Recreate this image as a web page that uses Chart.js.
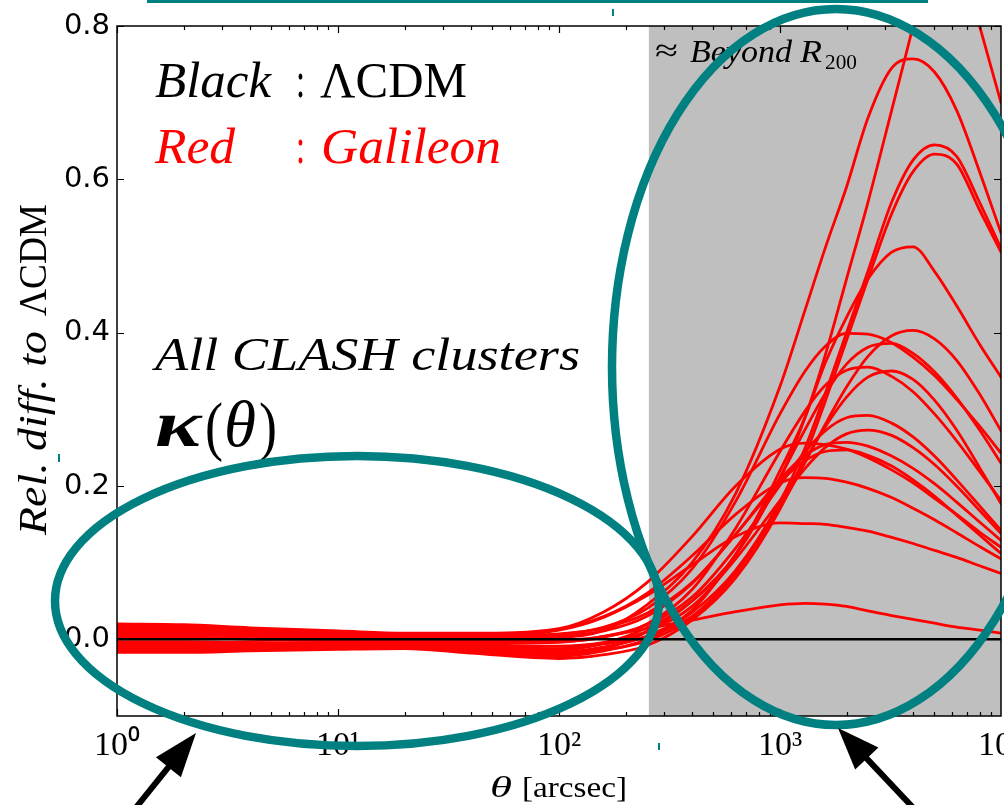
<!DOCTYPE html>
<html>
<head>
<meta charset="utf-8">
<script src="https://cdn.jsdelivr.net/npm/chart.js@4/dist/chart.umd.min.js"></script>
<style>
  html, body { margin: 0; padding: 0; background: #fff; }
  #wrap { width: 1004px; height: 805px; }
</style>
</head>
<body>
<div id="wrap"><canvas id="chart" width="1004" height="805"></canvas></div>
<script>
// theta grid in arcsec (shared by all curves)
var thetaGrid = [1, 2, 4, 10, 20, 40, 100, 160, 250, 400, 630, 1000, 1300, 1600, 2000, 2500, 3200, 4000, 5000, 6300, 8000, 10000]
var xTicks = [1, 10, 100, 1000, 10000]
var yTicks = [0, 0.2, 0.4, 0.6, 0.8]
var beyondR200 = 255

// black: LCDM reference
var lcdm = [0, 0, 0, 0, 0, 0, 0, 0, 0, 0, 0, 0, 0, 0, 0, 0, 0, 0, 0, 0, 0, 0]

// red: Galileon, one curve per CLASH cluster
var curve01 = [0.018, 0.017, 0.013, 0.009, 0.006, 0.004, 0.003, 0.012, 0.045, 0.10, 0.19, 0.33, 0.43, 0.51, 0.59, 0.68, 0.745, 0.757, 0.74, 0.69, 0.61, 0.53]
var curve02 = [-0.012, -0.012, -0.010, -0.009, -0.008, -0.013, -0.018, -0.012, 0.010, 0.05, 0.11, 0.21, 0.29, 0.37, 0.47, 0.57, 0.69, 0.80, 0.92, 0.91, 0.80, 0.70]
var curve03 = [-0.015, -0.015, -0.013, -0.011, -0.010, -0.016, -0.022, -0.015, 0.0, 0.035, 0.09, 0.18, 0.25, 0.32, 0.40, 0.48, 0.57, 0.625, 0.645, 0.63, 0.57, 0.51]
var curve04 = [-0.017, -0.017, -0.015, -0.013, -0.012, -0.018, -0.025, -0.020, -0.008, 0.025, 0.08, 0.17, 0.24, 0.31, 0.39, 0.47, 0.555, 0.61, 0.633, 0.62, 0.56, 0.505]
var curve05 = [-0.008, -0.008, -0.007, -0.007, -0.006, -0.010, -0.014, -0.005, 0.015, 0.05, 0.11, 0.22, 0.29, 0.36, 0.42, 0.47, 0.505, 0.512, 0.48, 0.435, 0.385, 0.342]
var curve06 = [-0.005, -0.005, -0.005, -0.004, -0.004, -0.008, -0.012, -0.006, 0.004, 0.03, 0.087, 0.172, 0.231, 0.28, 0.329, 0.369, 0.396, 0.403, 0.392, 0.364, 0.32, 0.272]
var curve07 = [0.012, 0.012, 0.010, 0.007, 0.004, 0.003, 0.006, 0.016, 0.04, 0.092, 0.18, 0.294, 0.35, 0.382, 0.399, 0.398, 0.387, 0.368, 0.344, 0.313, 0.278, 0.243]
var curve08 = [-0.010, -0.010, -0.009, -0.008, -0.007, -0.012, -0.017, -0.010, 0.004, 0.038, 0.111, 0.211, 0.274, 0.32, 0.359, 0.381, 0.386, 0.373, 0.349, 0.315, 0.273, 0.230]
var curve09 = [0.003, 0.003, 0.001, -0.001, -0.002, -0.004, -0.003, 0.003, 0.020, 0.065, 0.145, 0.245, 0.298, 0.331, 0.351, 0.355, 0.343, 0.323, 0.294, 0.259, 0.219, 0.181]
var curve10 = [-0.014, -0.014, -0.012, -0.010, -0.009, -0.015, -0.021, -0.014, -0.002, 0.028, 0.085, 0.177, 0.234, 0.277, 0.316, 0.342, 0.35, 0.339, 0.312, 0.273, 0.224, 0.177]
var curve11 = [0.006, 0.006, 0.004, 0.002, 0.0, -0.002, -0.001, 0.004, 0.019, 0.055, 0.119, 0.201, 0.245, 0.272, 0.289, 0.292, 0.282, 0.264, 0.239, 0.208, 0.174, 0.142]
var curve12 = [-0.003, -0.003, -0.004, -0.005, -0.005, -0.007, -0.009, -0.004, 0.010, 0.043, 0.105, 0.181, 0.223, 0.25, 0.268, 0.273, 0.266, 0.25, 0.228, 0.2, 0.168, 0.138]
var curve13 = [0.010, 0.010, 0.008, 0.005, 0.003, 0.002, 0.004, 0.011, 0.030, 0.073, 0.137, 0.209, 0.24, 0.254, 0.257, 0.252, 0.239, 0.223, 0.203, 0.179, 0.153, 0.129]
var curve14 = [0.020, 0.019, 0.015, 0.011, 0.008, 0.008, 0.014, 0.036, 0.074, 0.134, 0.2, 0.248, 0.256, 0.254, 0.248, 0.237, 0.221, 0.204, 0.184, 0.163, 0.14, 0.12]
var curve15 = [0.014, 0.013, 0.010, 0.007, 0.005, 0.004, 0.007, 0.015, 0.034, 0.074, 0.137, 0.205, 0.233, 0.245, 0.247, 0.24, 0.226, 0.208, 0.187, 0.162, 0.136, 0.112]
var curve16 = [0.016, 0.015, 0.012, 0.009, 0.007, 0.006, 0.013, 0.030, 0.060, 0.109, 0.163, 0.204, 0.211, 0.21, 0.205, 0.197, 0.185, 0.171, 0.156, 0.139, 0.121, 0.105]
var curve17 = [0.008, 0.008, 0.006, 0.004, 0.002, 0.002, 0.012, 0.029, 0.057, 0.097, 0.134, 0.152, 0.151, 0.15, 0.146, 0.141, 0.133, 0.125, 0.116, 0.107, 0.096, 0.086]
var curve18 = [0.002, 0.002, 0.0, -0.002, -0.003, -0.005, -0.004, 0.004, 0.014, 0.025, 0.036, 0.045, 0.047, 0.046, 0.043, 0.037, 0.031, 0.026, 0.021, 0.016, 0.012, 0.008]

var galileon = [curve01, curve02, curve03, curve04, curve05, curve06, curve07, curve08, curve09,
    curve10, curve11, curve12, curve13, curve14, curve15, curve16, curve17, curve18]

var teal = '#008080'
var serif = '"Liberation Serif", "Times New Roman", serif'
var sups = { 0: '\u2070', 1: '\u00b9', 2: '\u00b2', 3: '\u00b3', 4: '\u2074' }

function points(values) {
    return values.map(function(v, i) { return { x: thetaGrid[i], y: v } })
}

// text squeezed/stretched to a measured width
function fitText(ctx, str, x, y, width, font, color) {
    ctx.font = font
    ctx.fillStyle = color
    var w = ctx.measureText(str).width
    ctx.save()
    ctx.translate(x, y)
    ctx.scale(width / w, 1)
    ctx.fillText(str, 0, 0)
    ctx.restore()
}

function arrow(ctx, x0, y0, x1, y1, head, half) {
    var ang = Math.atan2(y1 - y0, x1 - x0)
    var c = Math.cos(ang), s = Math.sin(ang)
    var bx = x1 - head * c, by = y1 - head * s
    ctx.strokeStyle = '#000'
    ctx.fillStyle = '#000'
    ctx.lineWidth = 6
    ctx.beginPath()
    ctx.moveTo(x0, y0)
    ctx.lineTo(bx + 2 * c, by + 2 * s)
    ctx.stroke()
    ctx.beginPath()
    ctx.moveTo(x1, y1)
    ctx.lineTo(bx + half * s, by - half * c)
    ctx.lineTo(bx - half * s, by + half * c)
    ctx.closePath()
    ctx.fill()
}

var grayBand = {
    id: 'grayBand',
    beforeDatasetsDraw(chart) {
        var { ctx, chartArea: a } = chart
        var left = chart.scales.x.getPixelForValue(beyondR200)
        ctx.save()
        ctx.fillStyle = '#bfbfbf'
        ctx.fillRect(left, a.top, a.right - left, a.bottom - a.top)
        ctx.restore()
    }
}

var frame = {
    id: 'frame',
    afterDatasetsDraw(chart) {
        var { ctx, chartArea: a } = chart
        var xs = chart.scales.x, ys = chart.scales.y
        ctx.save()
        ctx.strokeStyle = '#000'
        ctx.lineWidth = 1.2
        ctx.beginPath()
        for (var d = 1; d <= 1000; d *= 10) {
            for (var m = 1; m <= 9; m++) {
                var px = Math.round(xs.getPixelForValue(m * d)) + 0.5
                var len = m === 1 ? 7 : 4
                ctx.moveTo(px, a.bottom); ctx.lineTo(px, a.bottom - len)
                ctx.moveTo(px, a.top); ctx.lineTo(px, a.top + len)
            }
        }
        yTicks.forEach(function(v) {
            var py = Math.round(ys.getPixelForValue(v)) + 0.5
            ctx.moveTo(a.left, py); ctx.lineTo(a.left + 7, py)
            ctx.moveTo(a.right, py); ctx.lineTo(a.right - 7, py)
        })
        ctx.stroke()
        ctx.lineWidth = 1.5
        ctx.strokeRect(a.left, a.top, a.right - a.left, a.bottom - a.top)
        ctx.restore()
    }
}

var notes = {
    id: 'notes',
    afterDraw(chart) {
        var ctx = chart.ctx
        ctx.save()
        ctx.textBaseline = 'alphabetic'
        ctx.textAlign = 'left'

        // legend-like labels
        fitText(ctx, 'Black', 155, 97, 116, 'italic 50px ' + serif, '#000')
        fitText(ctx, ':', 296, 97, 9, '50px ' + serif, '#000')
        fitText(ctx, '\u039bCDM', 320, 97, 147, '50px ' + serif, '#000')
        fitText(ctx, 'Red', 155, 163, 80, 'italic 50px ' + serif, '#f00')
        fitText(ctx, ':', 296, 163, 9, '50px ' + serif, '#f00')
        fitText(ctx, 'Galileon', 321, 163, 180, 'italic 50px ' + serif, '#f00')

        fitText(ctx, 'All CLASH clusters', 155, 370, 425, 'italic 46px ' + serif, '#000')
        fitText(ctx, '\u03ba', 155, 446, 46, 'bold italic 66px ' + serif, '#000')
        fitText(ctx, '(', 205, 448, 18, '66px ' + serif, '#000')
        fitText(ctx, '\u03b8', 224, 446, 32, 'italic 66px ' + serif, '#000')
        fitText(ctx, ')', 259, 448, 18, '66px ' + serif, '#000')

        fitText(ctx, '\u2248', 655, 61, 23, '32px ' + serif, '#000')
        fitText(ctx, 'Beyond', 690, 62, 102, 'italic 32px ' + serif, '#000')
        fitText(ctx, 'R', 800, 62, 22, 'italic 32px ' + serif, '#000')
        fitText(ctx, '200', 825, 69, 32, '22px ' + serif, '#000')

        // axis titles
        fitText(ctx, '\u03b8', 490, 797, 22, 'italic 30px ' + serif, '#000')
        fitText(ctx, '[arcsec]', 522, 797, 105, '30px ' + serif, '#000')
        ctx.save()
        ctx.translate(46, 535)
        ctx.rotate(-Math.PI / 2)
        fitText(ctx, 'Rel. diff. to', 0, 0, 204, 'italic 40px ' + serif, '#000')
        fitText(ctx, '\u039bCDM', 219, 0, 112, '40px ' + serif, '#000')
        ctx.restore()

        // teal annotation marks
        ctx.strokeStyle = teal
        ctx.lineWidth = 8.5
        ctx.beginPath()
        ctx.ellipse(357, 601, 302, 145, 0, 0, Math.PI * 2)
        ctx.stroke()
        ctx.beginPath()
        ctx.ellipse(836, 367, 224, 358, 0, 0, Math.PI * 2)
        ctx.stroke()
        ctx.lineWidth = 3
        ctx.beginPath()
        ctx.moveTo(147, 1.5)
        ctx.lineTo(928, 1.5)
        ctx.stroke()
        ctx.fillStyle = teal
        ctx.fillRect(612, 9, 2, 7)
        ctx.fillRect(58, 454, 2, 8)
        ctx.fillRect(658, 743, 2, 7)

        // black arrows
        arrow(ctx, 130, 815, 196, 733, 44, 16)
        arrow(ctx, 920, 815, 838, 728, 42, 16)
        ctx.restore()
    }
}

var datasets = [{
    label: 'LCDM',
    data: points(lcdm),
    borderColor: '#000',
    borderWidth: 2.5
}].concat(galileon.map(function(values, i) {
    return {
        label: 'Galileon ' + (i + 1),
        data: points(values),
        borderColor: '#ff0000',
        borderWidth: 2.8
    }
}))

new Chart(document.getElementById('chart'), {
    type: 'line',
    data: { datasets: datasets },
    options: {
        responsive: false,
        animation: false,
        devicePixelRatio: 1,
        layout: { padding: { left: 0, top: 26, right: 3, bottom: 0 } },
        elements: {
            point: { radius: 0 },
            line: { cubicInterpolationMode: 'monotone', borderCapStyle: 'round', borderJoinStyle: 'round' }
        },
        plugins: {
            legend: { display: false },
            tooltip: { enabled: false },
            title: { display: false }
        },
        scales: {
            x: {
                type: 'logarithmic',
                min: 1,
                max: 10000,
                afterBuildTicks(scale) { scale.ticks = xTicks.map(function(v) { return { value: v } }) },
                afterFit(scale) {
                    scale.height = 89
                    scale.paddingLeft = 0
                    scale.paddingRight = 0
                },
                grid: { display: false, drawTicks: false },
                border: { display: false },
                ticks: {
                    autoSkip: false,
                    maxRotation: 0,
                    padding: 10,
                    color: '#000',
                    font: { family: serif, size: 34 },
                    callback(v) { return '10' + sups[Math.round(Math.log10(v))] }
                }
            },
            y: {
                min: -0.1,
                max: 0.8,
                afterBuildTicks(scale) { scale.ticks = yTicks.map(function(v) { return { value: v } }) },
                afterFit(scale) {
                    scale.width = 117
                    scale.paddingTop = 0
                    scale.paddingBottom = 0
                },
                grid: { display: false, drawTicks: false },
                border: { display: false },
                ticks: {
                    padding: 7,
                    color: '#000',
                    font: { family: '"DejaVu Sans"', size: 29 },
                    callback(v) { return v.toFixed(1) }
                }
            }
        }
    },
    plugins: [grayBand, frame, notes]
})
</script>
</body>
</html>
